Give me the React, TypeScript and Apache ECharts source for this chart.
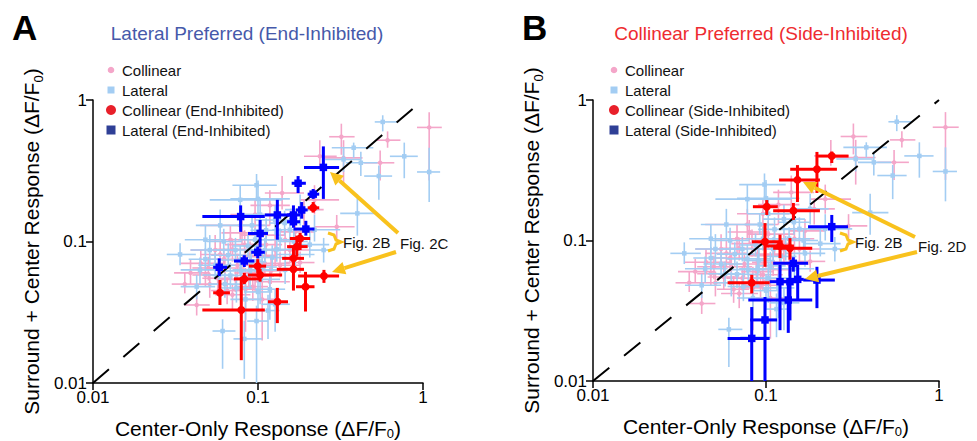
import React, { useEffect, useRef } from "react";
import * as echarts from "echarts";

// ---------- data: [x, y, xLow, xHigh, yLow, yHigh] in ΔF/F0 ----------
const collinearAll = [
  [1.09, 0.64, 0.92, 1.3, 0.27, 0.82],
  [0.61, 0.52, 0.52, 0.73, 0.46, 0.6],
  [0.55, 0.36, 0.44, 0.67, 0.27, 0.44],
  [0.33, 0.39, 0.245, 0.43, 0.25, 0.52],
  [0.32, 0.55, 0.27, 0.385, 0.41, 0.68],
  [0.237, 0.4, 0.19, 0.3, 0.34, 0.52],
  [0.14, 0.22, 0.11, 0.19, 0.168, 0.29],
  [0.3, 0.127, 0.22, 0.385, 0.103, 0.154],
  [0.22, 0.197, 0.18, 0.31, 0.155, 0.25],
  [0.118, 0.18, 0.09, 0.156, 0.13, 0.23],
  [0.096, 0.155, 0.068, 0.136, 0.115, 0.197],
  [0.078, 0.13, 0.0445, 0.118, 0.103, 0.168],
  [0.068, 0.103, 0.051, 0.096, 0.081, 0.13],
  [0.055, 0.087, 0.039, 0.078, 0.068, 0.111],
  [0.045, 0.07, 0.034, 0.063, 0.058, 0.087],
  [0.039, 0.06, 0.031, 0.051, 0.05, 0.074],
  [0.0425, 0.0356, 0.036, 0.051, 0.03, 0.042],
  [0.084, 0.046, 0.07, 0.1, 0.023, 0.065],
  [0.096, 0.057, 0.078, 0.125, 0.044, 0.071],
  [0.11, 0.07, 0.083, 0.156, 0.056, 0.09],
  [0.127, 0.087, 0.096, 0.18, 0.068, 0.111],
  [0.146, 0.103, 0.115, 0.19, 0.081, 0.124],
  [0.168, 0.117, 0.136, 0.22, 0.095, 0.142],
  [0.063, 0.065, 0.048, 0.083, 0.052, 0.081],
  [0.073, 0.054, 0.059, 0.096, 0.044, 0.065],
  [0.051, 0.05, 0.042, 0.068, 0.04, 0.06],
  [0.0895, 0.08, 0.068, 0.127, 0.065, 0.1],
  [0.118, 0.052, 0.096, 0.156, 0.039, 0.065],
  [0.103, 0.111, 0.078, 0.146, 0.087, 0.138],
  [0.19, 0.168, 0.156, 0.25, 0.13, 0.2],
  [0.083, 0.095, 0.063, 0.11, 0.077, 0.12],
  [0.059, 0.081, 0.0445, 0.078, 0.065, 0.1],
  [0.136, 0.068, 0.105, 0.18, 0.056, 0.084],
  [0.156, 0.087, 0.127, 0.206, 0.071, 0.106],
  [0.07, 0.042, 0.055, 0.09, 0.033, 0.05],
  [0.106, 0.039, 0.087, 0.136, 0.02, 0.054],
  [0.048, 0.058, 0.04, 0.058, 0.048, 0.07],
  [0.18, 0.071, 0.146, 0.22, 0.06, 0.085],
  [0.036, 0.05, 0.03, 0.043, 0.043, 0.06],
  [0.062, 0.075, 0.05, 0.078, 0.062, 0.09],
  [0.075, 0.068, 0.06, 0.095, 0.055, 0.082],
  [0.088, 0.06, 0.072, 0.11, 0.048, 0.074],
  [0.1, 0.078, 0.08, 0.128, 0.064, 0.095],
  [0.12, 0.062, 0.1, 0.145, 0.05, 0.077],
  [0.093, 0.048, 0.075, 0.115, 0.038, 0.06],
  [0.057, 0.055, 0.046, 0.07, 0.045, 0.068],
  [0.07, 0.088, 0.055, 0.09, 0.072, 0.105],
  [0.112, 0.095, 0.09, 0.14, 0.078, 0.115],
  [0.08, 0.115, 0.06, 0.105, 0.095, 0.14],
  [0.05, 0.065, 0.04, 0.062, 0.053, 0.078],
  [0.065, 0.045, 0.052, 0.08, 0.036, 0.056],
];

const lateralAll = [
  [0.57, 0.7, 0.51, 0.7, 0.6, 0.78],
  [0.77, 0.4, 0.63, 0.93, 0.28, 0.5],
  [1.09, 0.31, 0.92, 1.27, 0.19, 0.46],
  [0.54, 0.29, 0.44, 0.65, 0.197, 0.345],
  [0.38, 0.46, 0.28, 0.5, 0.39, 0.5],
  [0.33, 0.38, 0.255, 0.415, 0.31, 0.46],
  [0.42, 0.36, 0.34, 0.53, 0.29, 0.43],
  [0.4, 0.158, 0.315, 0.51, 0.11, 0.215],
  [0.25, 0.087, 0.206, 0.29, 0.071, 0.106],
  [0.18, 0.168, 0.146, 0.23, 0.13, 0.215],
  [0.156, 0.121, 0.122, 0.206, 0.1, 0.146],
  [0.127, 0.142, 0.096, 0.168, 0.111, 0.18],
  [0.1, 0.2, 0.068, 0.156, 0.155, 0.27],
  [0.059, 0.13, 0.042, 0.0895, 0.103, 0.168],
  [0.048, 0.103, 0.036, 0.063, 0.081, 0.13],
  [0.0425, 0.048, 0.034, 0.055, 0.039, 0.058],
  [0.061, 0.0233, 0.053, 0.073, 0.0126, 0.0282],
  [0.0826, 0.0205, 0.071, 0.106, 0.0107, 0.0276],
  [0.098, 0.0274, 0.086, 0.115, 0.01, 0.0352],
  [0.078, 0.074, 0.059, 0.106, 0.058, 0.094],
  [0.0895, 0.063, 0.07, 0.118, 0.046, 0.08],
  [0.103, 0.054, 0.083, 0.136, 0.036, 0.071],
  [0.118, 0.046, 0.096, 0.146, 0.028, 0.058],
  [0.068, 0.0575, 0.053, 0.0895, 0.046, 0.071],
  [0.055, 0.068, 0.0435, 0.073, 0.054, 0.084],
  [0.11, 0.087, 0.0895, 0.146, 0.071, 0.106],
  [0.136, 0.103, 0.105, 0.18, 0.085, 0.124],
  [0.096, 0.103, 0.076, 0.122, 0.085, 0.124],
  [0.084, 0.039, 0.068, 0.106, 0.028, 0.05],
  [0.127, 0.036, 0.105, 0.156, 0.023, 0.046],
  [0.073, 0.087, 0.055, 0.096, 0.071, 0.106],
  [0.063, 0.05, 0.05, 0.083, 0.04, 0.06],
  [0.146, 0.063, 0.115, 0.19, 0.05, 0.08],
  [0.168, 0.081, 0.13, 0.22, 0.065, 0.1],
  [0.206, 0.095, 0.164, 0.27, 0.077, 0.12],
  [0.051, 0.087, 0.039, 0.07, 0.068, 0.111],
  [0.0445, 0.063, 0.034, 0.06, 0.05, 0.077],
  [0.103, 0.155, 0.078, 0.14, 0.121, 0.197],
  [0.078, 0.197, 0.051, 0.14, 0.155, 0.25],
  [0.22, 0.121, 0.18, 0.315, 0.1, 0.154],
  [0.098, 0.25, 0.07, 0.13, 0.2, 0.3],
  [0.0337, 0.081, 0.028, 0.042, 0.068, 0.097],
  [0.115, 0.0325, 0.1, 0.135, 0.0205, 0.042],
  [0.092, 0.13, 0.075, 0.11, 0.11, 0.155],
  [0.066, 0.08, 0.052, 0.085, 0.066, 0.097],
  [0.079, 0.062, 0.063, 0.1, 0.05, 0.076],
  [0.091, 0.072, 0.074, 0.112, 0.058, 0.088],
  [0.106, 0.066, 0.087, 0.13, 0.052, 0.083],
  [0.122, 0.077, 0.1, 0.15, 0.062, 0.094],
  [0.058, 0.058, 0.046, 0.072, 0.047, 0.071],
  [0.074, 0.047, 0.06, 0.092, 0.037, 0.059],
  [0.1, 0.044, 0.082, 0.122, 0.032, 0.058],
  [0.087, 0.093, 0.07, 0.108, 0.077, 0.112],
  [0.13, 0.088, 0.107, 0.16, 0.072, 0.108],
  [0.062, 0.1, 0.049, 0.08, 0.082, 0.123],
  [0.048, 0.075, 0.038, 0.06, 0.062, 0.09],
  [0.112, 0.12, 0.09, 0.14, 0.098, 0.146],
  [0.145, 0.135, 0.118, 0.18, 0.11, 0.165],
  [0.165, 0.1, 0.135, 0.2, 0.083, 0.12],
];

// Panel A highlights (end-inhibited)
const collinearEndInhibited = [
  [0.216, 0.173, 0.2, 0.235, 0.16, 0.19],
  [0.18, 0.105, 0.156, 0.207, 0.087, 0.115],
  [0.172, 0.092, 0.15, 0.2, 0.078, 0.11],
  [0.164, 0.076, 0.14, 0.19, 0.065, 0.09],
  [0.164, 0.0636, 0.13, 0.19, 0.045, 0.074],
  [0.251, 0.057, 0.175, 0.31, 0.051, 0.063],
  [0.194, 0.0479, 0.17, 0.22, 0.032, 0.061],
  [0.131, 0.0375, 0.115, 0.152, 0.0265, 0.047],
  [0.0996, 0.067, 0.088, 0.112, 0.06, 0.075],
  [0.103, 0.058, 0.087, 0.14, 0.052, 0.064],
  [0.0826, 0.0544, 0.0715, 0.103, 0.05, 0.06],
  [0.0588, 0.0434, 0.0535, 0.0676, 0.0356, 0.0535],
  [0.0792, 0.0328, 0.046, 0.11, 0.0145, 0.056],
];
const lateralEndInhibited = [
  [0.249, 0.334, 0.19, 0.31, 0.2, 0.47],
  [0.175, 0.258, 0.16, 0.195, 0.22, 0.29],
  [0.216, 0.216, 0.2, 0.235, 0.2, 0.235],
  [0.0785, 0.15, 0.046, 0.11, 0.117, 0.18],
  [0.131, 0.154, 0.11, 0.156, 0.103, 0.197],
  [0.164, 0.154, 0.15, 0.18, 0.13, 0.18],
  [0.184, 0.167, 0.17, 0.2, 0.145, 0.19],
  [0.164, 0.138, 0.15, 0.18, 0.125, 0.155],
  [0.195, 0.1225, 0.164, 0.22, 0.11, 0.14],
  [0.103, 0.114, 0.087, 0.115, 0.091, 0.142],
  [0.0996, 0.0839, 0.091, 0.11, 0.076, 0.092],
  [0.0826, 0.0728, 0.0715, 0.095, 0.066, 0.08],
  [0.0582, 0.0657, 0.0535, 0.065, 0.057, 0.076],
];

// Panel B highlights (side-inhibited)
const collinearSideInhibited = [
  [0.24, 0.399, 0.2, 0.3, 0.356, 0.43],
  [0.197, 0.321, 0.138, 0.257, 0.218, 0.427],
  [0.152, 0.27, 0.119, 0.205, 0.188, 0.344],
  [0.101, 0.174, 0.084, 0.117, 0.152, 0.194],
  [0.144, 0.163, 0.11, 0.205, 0.14, 0.185],
  [0.0987, 0.098, 0.083, 0.125, 0.065, 0.133],
  [0.1205, 0.0914, 0.1, 0.145, 0.075, 0.11],
  [0.1376, 0.088, 0.11, 0.185, 0.073, 0.104],
  [0.0827, 0.0501, 0.06, 0.105, 0.042, 0.057],
];
const lateralSideInhibited = [
  [0.24, 0.1254, 0.175, 0.298, 0.0976, 0.152],
  [0.1438, 0.0688, 0.11, 0.175, 0.06, 0.076],
  [0.1205, 0.0509, 0.105, 0.14, 0.023, 0.067],
  [0.1376, 0.0509, 0.125, 0.15, 0.027, 0.067],
  [0.1525, 0.0529, 0.14, 0.165, 0.0377, 0.067],
  [0.197, 0.0523, 0.164, 0.25, 0.033, 0.065],
  [0.1345, 0.0377, 0.079, 0.185, 0.022, 0.052],
  [0.0987, 0.0272, 0.081, 0.116, 0.01, 0.0396],
  [0.0827, 0.0201, 0.06, 0.105, 0.01, 0.0336],
];

const axisRange = [0.01, 1];
const unityLine = [
  [0.01, 0.01],
  [1, 1],
];
const panelTitles = ["Lateral Preferred (End-Inhibited)", "Collinear Preferred (Side-Inhibited)"];
const legendLabelsA = ["Collinear", "Lateral", "Collinear (End-Inhibited)", "Lateral (End-Inhibited)"];
const legendLabelsB = ["Collinear", "Lateral", "Collinear (Side-Inhibited)", "Lateral (Side-Inhibited)"];

// ---------- styling ----------
const FONT = '"Liberation Sans", Arial, Helvetica, sans-serif';
const PINK = "#f4a6c9";
const LIGHTBLUE = "#a3cdf3";
const RED = "#ff0000";
const BLUE = "#0000ff";
const YELLOW = "#f9c21d";

function errorBarSeries(
  name: string,
  data: number[][],
  color: string,
  lineWidth: number,
  marker: "circle" | "rect",
  size: number,
  gridIndex: number,
  z: number
) {
  return {
    type: "custom",
    name,
    xAxisIndex: gridIndex,
    yAxisIndex: gridIndex,
    z,
    clip: false,
    silent: true,
    data,
    encode: { x: 0, y: 1 },
    renderItem: (_params: any, api: any) => {
      const x = api.value(0);
      const y = api.value(1);
      const c = api.coord([x, y]);
      const l = api.coord([api.value(2), y]);
      const r = api.coord([api.value(3), y]);
      const b = api.coord([x, api.value(4)]);
      const t = api.coord([x, api.value(5)]);
      const style = { stroke: color, lineWidth };
      const dot =
        marker === "circle"
          ? { type: "circle", shape: { cx: c[0], cy: c[1], r: size / 2 }, style: { fill: color } }
          : {
              type: "rect",
              shape: { x: c[0] - size / 2, y: c[1] - size / 2, width: size, height: size },
              style: { fill: color },
            };
      return {
        type: "group",
        children: [
          { type: "line", shape: { x1: l[0], y1: c[1], x2: r[0], y2: c[1] }, style },
          { type: "line", shape: { x1: c[0], y1: b[1], x2: c[0], y2: t[1] }, style },
          dot,
        ],
      };
    },
  };
}

function arrow(x1: number, y1: number, x2: number, y2: number) {
  const dx = x2 - x1;
  const dy = y2 - y1;
  const len = Math.sqrt(dx * dx + dy * dy);
  const ux = dx / len;
  const uy = dy / len;
  const hl = 13;
  const hw = 6.5;
  const bx = x2 - ux * hl;
  const by = y2 - uy * hl;
  return [
    { type: "line", shape: { x1, y1, x2: bx, y2: by }, style: { stroke: YELLOW, lineWidth: 4 }, z: 50 },
    {
      type: "polygon",
      shape: {
        points: [
          [x2, y2],
          [bx - uy * hw, by + ux * hw],
          [bx + uy * hw, by - ux * hw],
        ],
      },
      style: { fill: YELLOW },
      z: 50,
    },
  ];
}

function brace(x: number, y: number) {
  return {
    type: "polyline",
    shape: {
      points: [
        [x, y - 9],
        [x + 6, y - 7],
        [x + 8, y - 2],
        [x + 13, y],
        [x + 8, y + 2],
        [x + 6, y + 7],
        [x, y + 9],
      ],
    },
    style: { stroke: YELLOW, lineWidth: 3, fill: null },
    z: 50,
  };
}

function text(str: string, x: number, y: number, size: number, color: string, align = "left", weight = "normal") {
  return {
    type: "text",
    x,
    y,
    z: 60,
    style: {
      text: str,
      fill: color,
      font: `${weight} ${size}px ${FONT}`,
      align,
      verticalAlign: "middle",
      textAlign: align,
      textVerticalAlign: "middle",
    },
  };
}

function legend(x: number, labels: string[], darkBlue: string, redC: string) {
  const rows = [70, 90, 110, 130];
  return [
    { type: "circle", shape: { cx: x, cy: rows[0], r: 3.3 }, style: { fill: PINK }, z: 60 },
    { type: "rect", shape: { x: x - 3.5, y: rows[1] - 3.5, width: 7, height: 7 }, style: { fill: LIGHTBLUE }, z: 60 },
    { type: "circle", shape: { cx: x, cy: rows[2], r: 5 }, style: { fill: redC }, z: 60 },
    { type: "rect", shape: { x: x - 4.5, y: rows[3] - 4.5, width: 9, height: 9 }, style: { fill: darkBlue }, z: 60 },
    ...labels.map((l, i) => text(l, x + 11, rows[i], 15, "#111")),
  ];
}

const axisCommon = {
  type: "log",
  logBase: 10,
  min: axisRange[0],
  max: axisRange[1],
  splitLine: { show: false },
  minorTick: { show: false },
  axisLine: { show: true, lineStyle: { color: "#000", width: 1.5 } },
  axisTick: { show: true, length: 7, lineStyle: { color: "#000", width: 1.5 } },
  axisLabel: { color: "#000", fontSize: 17, fontFamily: FONT, margin: 6 },
};

const nameStyleX = {
  fontSize: 21,
  fontFamily: FONT,
  color: "#000",
  rich: {
    s: { fontSize: 13, fontFamily: FONT, color: "#000", verticalAlign: "bottom", lineHeight: 24 },
  },
};
const nameStyleY = {
  fontSize: 21,
  fontFamily: FONT,
  color: "#000",
  rich: {
    s: { fontSize: 13, fontFamily: FONT, color: "#000", verticalAlign: "bottom", lineHeight: 28 },
  },
};

export default function App() {
  const ref = useRef<HTMLDivElement>(null);
  useEffect(() => {
    if (!ref.current) return;
    const chart = echarts.init(ref.current, undefined, { renderer: "svg" });
    const grids = [
      { left: 93, top: 100, width: 330, height: 283, outerBoundsMode: "none", containLabel: false },
      { left: 593, top: 100, width: 346, height: 281, outerBoundsMode: "none", containLabel: false },
    ];
    const xAxis = grids.map((_, i) => ({
      ...axisCommon,
      gridIndex: i,
      name: "Center-Only Response (ΔF/F{s|0})",
      nameLocation: "middle",
      nameGap: 33,
      nameTextStyle: nameStyleX,
    }));
    const yAxis = grids.map((_, i) => ({
      ...axisCommon,
      gridIndex: i,
      name: "Surround + Center Response (ΔF/F{s|0})",
      nameLocation: "middle",
      nameGap: 48,
      nameTextStyle: nameStyleY,
    }));
    const series: any[] = [];
    const highlights = [
      [collinearEndInhibited, lateralEndInhibited],
      [collinearSideInhibited, lateralSideInhibited],
    ];
    for (let g = 0; g < 2; g++) {
      series.push(errorBarSeries("Collinear", collinearAll, PINK, 1.6, "circle", 4.5, g, 1));
      series.push(errorBarSeries("Lateral", lateralAll, LIGHTBLUE, 1.6, "rect", 4.5, g, 2));
      series.push({
        type: "line",
        xAxisIndex: g,
        yAxisIndex: g,
        data: unityLine,
        symbol: "none",
        silent: true,
        z: 3,
        lineStyle: { color: "#000", width: 2, type: [21, 19] },
      });
      if (g === 0) {
        series.push(errorBarSeries("Collinear (End-Inhibited)", highlights[g][0], RED, 3, "circle", 8, g, 4));
        series.push(errorBarSeries("Lateral (End-Inhibited)", highlights[g][1], BLUE, 3, "rect", 7.5, g, 5));
      } else {
        series.push(errorBarSeries("Lateral (Side-Inhibited)", highlights[g][1], BLUE, 3, "rect", 7.5, g, 4));
        series.push(errorBarSeries("Collinear (Side-Inhibited)", highlights[g][0], RED, 3, "circle", 8, g, 5));
      }
    }

    const graphic: any[] = [
      text("A", 12, 27, 35, "#000", "left", "bold"),
      text("B", 522, 27, 35, "#000", "left", "bold"),
      text(panelTitles[0], 247, 33, 19, "#4659aa", "center"),
      text(panelTitles[1], 761, 33, 19, "#ee2b30", "center"),
      ...legend(111, legendLabelsA, "#2f3f96", "#e8202a"),
      ...legend(614, legendLabelsB, "#2f3f96", "#e8202a"),
      // panel A annotations
      ...arrow(398, 233, 330, 172),
      ...arrow(396, 252, 332, 272),
      brace(328, 242),
      text("Fig. 2B", 343, 242, 15, "#111"),
      text("Fig. 2C", 400, 243, 15, "#111"),
      // panel B annotations
      ...arrow(915, 237, 803, 182),
      ...arrow(917, 252, 805, 279),
      brace(840, 242),
      text("Fig. 2B", 855, 242, 15, "#111"),
      text("Fig. 2D", 918, 246, 15, "#111"),
    ];

    chart.setOption({
      animation: false,
      backgroundColor: "#fff",
      grid: grids,
      xAxis,
      yAxis,
      series,
      graphic,
    });
    return () => chart.dispose();
  }, []);
  return <div ref={ref} style={{ width: 977, height: 441, position: "absolute", left: 0, top: 0 }} />;
}
